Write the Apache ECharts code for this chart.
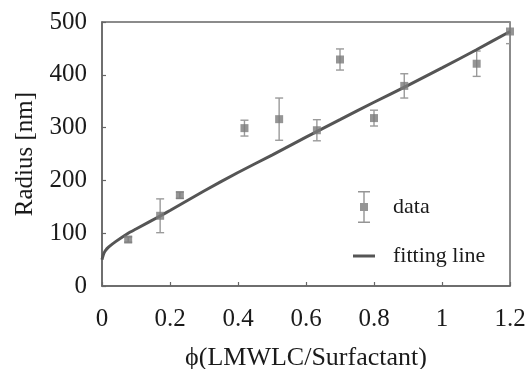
<!DOCTYPE html>
<html>
<head>
<meta charset="utf-8">
<script src="https://cdn.jsdelivr.net/npm/echarts@6/dist/echarts.min.js"></script>
<style>
  html, body { margin: 0; padding: 0; background: #fff; }
  #chart { width: 531px; height: 369px; }
</style>
</head>
<body>
<div id="chart"></div>
<script>
// measured points: phi, radius, error (+/-)
const phi = [0.077, 0.171, 0.229, 0.419, 0.521, 0.632, 0.70, 0.80, 0.889, 1.102, 1.2];
const radius = [88, 133, 172, 299, 316, 295, 429, 318, 379, 421, 482];
const radiusErr = [5, 32, 6, 15, 40, 20, 20, 15, 23, 24, 23];

// fitting curve
const fitX = [0, 0.005, 0.01, 0.02, 0.04, 0.077, 0.1, 0.175, 0.2, 0.3, 0.4, 0.5, 0.6, 0.7, 0.8, 0.9, 1.0, 1.1, 1.2];
const fitY = [50, 61, 67, 74, 84, 100, 108, 134, 143, 180, 215, 248, 282, 315, 348, 380, 413, 447, 482];

const xTicks = [0, 0.2, 0.4, 0.6, 0.8, 1, 1.2];
const yTicks = [0, 100, 200, 300, 400, 500];

const font = "'Liberation Serif', 'DejaVu Serif', 'Times New Roman', serif";
const textColor = '#1a1a1a';
const frameColor = '#666';

const chart = echarts.init(document.getElementById('chart'));

const pointData = phi.map((x, i) => [x, radius[i]]);
const errData = phi.map((x, i) => [x, radius[i] - radiusErr[i], radius[i] + radiusErr[i]]);
const fitData = fitX.map((x, i) => [x, fitY[i]]);

const dataIcon = 'path://M0,0H12V1.5H0Z M5.3,0H6.7V32H5.3Z M0,30.5H12V32H0Z M2,12H10V20H2Z';
const lineIcon = 'path://M0,0H22V3H0Z';

chart.setOption({
  backgroundColor: '#fff',
  animation: false,
  textStyle: { fontFamily: font },
  grid: {
    left: 102, right: 21, top: 22, bottom: 83,
    outerBoundsMode: 'none',
    show: true, borderColor: frameColor, borderWidth: 1.5, backgroundColor: 'transparent'
  },
  legend: [
    {
      data: [{ name: 'data', icon: dataIcon }],
      left: 353, top: 186, orient: 'vertical',
      itemWidth: 12, itemHeight: 32,
      textStyle: { fontFamily: font, fontSize: 22, color: textColor, padding: [0, 0, 0, 18] },
      selectedMode: false
    },
    {
      data: [{ name: 'fitting line', icon: lineIcon }],
      left: 348, top: 240, orient: 'vertical',
      itemWidth: 22, itemHeight: 3,
      textStyle: { fontFamily: font, fontSize: 22, color: textColor, padding: [0, 0, 0, 13] },
      selectedMode: false
    }
  ],
  xAxis: {
    type: 'value', min: xTicks[0], max: xTicks[xTicks.length - 1], interval: 0.2,
    name: 'ϕ(LMWLC/Surfactant)', nameLocation: 'middle', nameGap: 59,
    nameTextStyle: { fontFamily: font, fontSize: 26, color: textColor },
    axisLine: { show: true, lineStyle: { color: frameColor, width: 1.5 } },
    axisTick: { show: true, inside: true, length: 4, lineStyle: { color: frameColor, width: 1.2 } },
    axisLabel: { fontFamily: font, fontSize: 25, color: textColor, margin: 21 },
    splitLine: { show: false }
  },
  yAxis: {
    type: 'value', min: yTicks[0], max: yTicks[yTicks.length - 1], interval: 100,
    name: 'Radius [nm]', nameLocation: 'middle', nameGap: 64,
    nameTextStyle: { fontFamily: font, fontSize: 25, color: textColor },
    axisLine: { show: true, lineStyle: { color: frameColor, width: 1.5 } },
    axisTick: { show: true, inside: true, length: 4, lineStyle: { color: frameColor, width: 1.2 } },
    axisLabel: { fontFamily: font, fontSize: 25, color: textColor, margin: 15 },
    splitLine: { show: false }
  },
  series: [
    {
      name: 'errbar',
      type: 'custom',
      data: errData,
      z: 2,
      clip: true,
      renderItem: function (params, api) {
        const lo = api.coord([api.value(0), api.value(1)]);
        const hi = api.coord([api.value(0), api.value(2)]);
        const cap = 4;
        const style = { stroke: '#9a9a9a', lineWidth: 1.4 };
        return {
          type: 'group',
          children: [
            { type: 'line', shape: { x1: lo[0], y1: lo[1], x2: hi[0], y2: hi[1] }, style: style },
            { type: 'line', shape: { x1: lo[0] - cap, y1: lo[1], x2: lo[0] + cap, y2: lo[1] }, style: style },
            { type: 'line', shape: { x1: hi[0] - cap, y1: hi[1], x2: hi[0] + cap, y2: hi[1] }, style: style }
          ]
        };
      }
    },
    {
      name: 'fitting line',
      type: 'line',
      data: fitData,
      smooth: 0.2,
      symbol: 'none',
      z: 3,
      lineStyle: { color: '#555', width: 3 },
      itemStyle: { color: '#555' }
    },
    {
      name: 'data',
      type: 'scatter',
      data: pointData,
      symbol: 'rect',
      symbolSize: 8,
      z: 4,
      itemStyle: { color: '#7a7a7a' }
    }
  ]
});
</script>
</body>
</html>
